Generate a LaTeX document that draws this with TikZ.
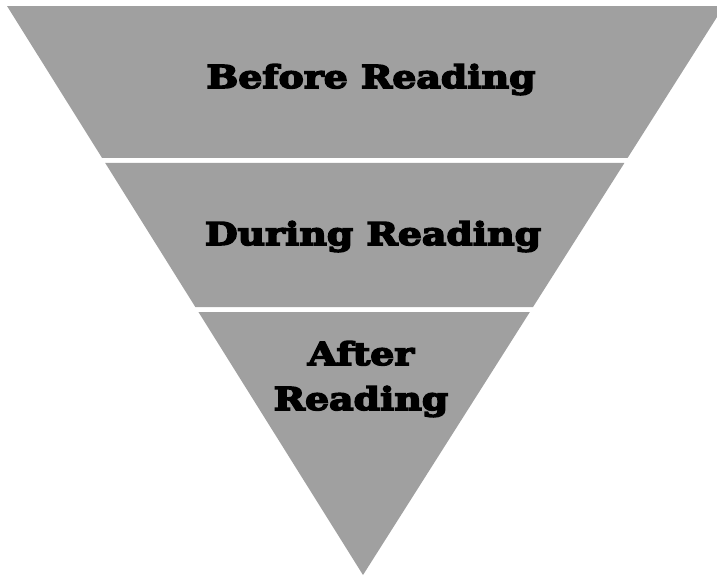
\documentclass[tikz,border=0pt]{standalone}
\usepackage{fontspec}
\newfontfamily\bandfont{DejaVu Serif}[FakeStretch=1.2,BoldFeatures={FakeBold=5,FakeStretch=1.2}]
\definecolor{bandgray}{HTML}{A0A0A0}
\usetikzlibrary{calc}

\begin{document}
\begin{tikzpicture}[x=1pt,y=-1pt,
  band/.style={fill=bandgray,draw=none},
  lbl/.style={font=\bandfont\bfseries\fontsize{31.5}{45}\selectfont,text=black,align=center,inner sep=0pt}]
  \useasboundingbox (0,0) rectangle (717,576);
  \clip (0,0) rectangle (717,576);
  % outer triangle corners
  \coordinate (tl) at (7,6);
  \coordinate (tr) at (724,6);
  \coordinate (ap) at (363,575);
  % three bands, white gaps between them
  \fill[band] (tl) -- (tr) -- ($(tr)!0.2671!(ap)$) -- ($(tl)!0.2671!(ap)$) -- cycle;
  \fill[band] ($(tl)!0.2759!(ap)$) -- ($(tr)!0.2759!(ap)$) -- ($(tr)!0.5290!(ap)$) -- ($(tl)!0.5290!(ap)$) -- cycle;
  \fill[band] ($(tl)!0.5378!(ap)$) -- ($(tr)!0.5378!(ap)$) -- (ap) -- cycle;
  \node[lbl,anchor=base] (before) at (371,88) {Before Reading};
  \node[lbl,anchor=base] (during) at (373,245) {During Reading};
  \node[lbl] (after) at (361,379) {After\\Reading};
\end{tikzpicture}
\end{document}
